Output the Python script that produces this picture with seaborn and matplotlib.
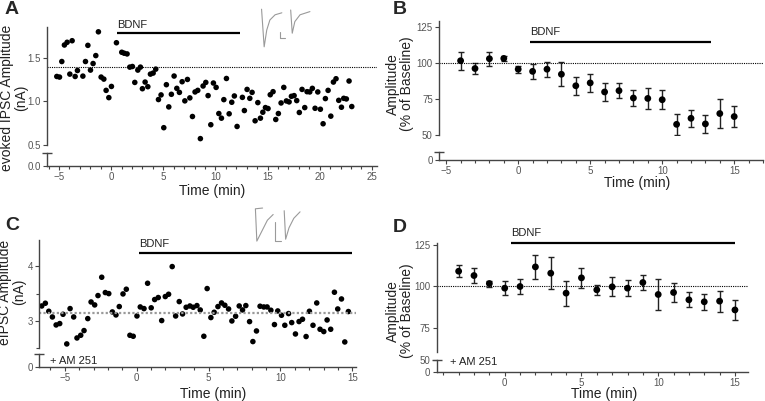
import numpy as np
import pandas as pd
import seaborn as sns
import matplotlib
matplotlib.use("Agg")
import matplotlib.pyplot as plt
from matplotlib.ticker import MultipleLocator, FormatStrFormatter

sns.set_style("ticks")
plt.rcParams['font.family'] = ['Liberation Sans', 'DejaVu Sans']

# ---- panel A: evoked IPSC amplitude (nA), single cell
a_time = [-5.21, -4.95, -4.73, -4.48, -4.22, -3.96, -3.74, -3.45, -3.23, -2.71,
          -2.46, -2.23, -1.98, -1.73, -1.47, -1.22, -0.96, -0.70, -0.48, -0.22,
          0.03, 0.51, 1.02, 1.25, 1.53, 1.79, 2.04, 2.27, 2.56, 2.81,
          3.00, 3.26, 3.52, 3.77, 4.03, 4.28, 4.54, 4.79, 5.05, 5.30,
          5.53, 5.78, 6.04, 6.30, 6.55, 6.81, 7.07, 7.32, 7.55, 7.80,
          8.05, 8.31, 8.56, 8.82, 9.08, 9.30, 9.56, 9.81, 10.07, 10.33,
          10.58, 10.81, 11.06, 11.32, 11.57, 11.82, 12.08, 12.59, 12.78, 13.04,
          13.30, 13.52, 13.81, 14.07, 14.32, 14.55, 14.80, 15.05, 15.26, 15.53,
          15.79, 16.04, 16.30, 16.56, 16.81, 17.07, 17.29, 17.55, 17.80, 18.05,
          18.31, 18.57, 18.79, 19.05, 19.30, 19.56, 19.82, 20.07, 20.33, 20.55,
          20.81, 21.07, 21.32, 21.57, 21.83, 22.09, 22.31, 22.56, 22.82, 23.08]
a_amp = [1.284, 1.277, 1.455, 1.644, 1.675, 1.311, 1.693, 1.284, 1.352, 1.288,
         1.455, 1.640, 1.357, 1.432, 1.523, 1.795, 1.277, 1.254, 1.125, 1.042,
         1.170, 1.670, 1.561, 1.550, 1.542, 1.391, 1.398, 1.216, 1.357, 1.391,
         1.144, 1.220, 1.167, 1.311, 1.323, 1.368, 1.020, 1.073, 0.698, 1.190,
         0.936, 1.080, 1.289, 1.148, 1.102, 1.224, 1.005, 1.250, 1.039, 0.826,
         1.107, 1.125, 0.573, 1.175, 1.216, 1.065, 0.732, 1.209, 1.159, 0.860,
         0.807, 1.019, 1.261, 0.857, 0.989, 1.061, 0.712, 1.045, 0.894, 1.136,
         1.034, 1.102, 0.777, 0.985, 0.807, 0.875, 0.928, 0.917, 1.075, 1.110,
         0.792, 0.860, 0.981, 1.159, 1.004, 0.993, 1.057, 1.065, 1.008, 0.872,
         1.136, 0.928, 1.110, 1.107, 1.148, 0.920, 1.107, 0.909, 0.743, 1.031,
         1.125, 0.830, 1.220, 1.258, 1.011, 0.932, 1.034, 1.027, 1.232, 0.940]
a_baseline = 1.39

# ---- panel B: mean amplitude (% of baseline) +- sem
b_time = [-4, -3, -2, -1, 0, 1, 2, 3, 4, 5, 6, 7, 8, 9, 10, 11, 12, 13, 14, 15]
b_mean = [101.4, 96.0, 102.8, 103.0, 95.5, 94.0, 95.5, 92.0, 84.0, 86.0,
          79.7, 80.6, 75.5, 75.2, 74.3, 57.2, 61.4, 57.5, 64.7, 62.6]
b_sem = [6.3, 4.0, 4.8, 1.5, 2.5, 5.1, 5.3, 8.2, 6.4, 6.2,
         6.3, 5.1, 5.6, 7.4, 6.5, 7.1, 6.1, 6.2, 10.0, 7.5]

# ---- panel C: eIPSC amplitude (nA) with AM 251
c_time = [-6.60, -6.35, -6.11, -5.86, -5.60, -5.35, -5.12, -4.86, -4.63, -4.38,
          -4.15, -3.89, -3.66, -3.40, -3.17, -2.92, -2.69, -2.43, -2.18, -1.94,
          -1.69, -1.44, -1.21, -0.95, -0.72, -0.47, -0.24, 0.02, 0.25, 0.51,
          0.76, 1.01, 1.25, 1.50, 1.74, 1.99, 2.22, 2.47, 2.71, 2.96,
          3.19, 3.44, 3.70, 3.93, 4.19, 4.42, 4.67, 4.90, 5.16, 5.39,
          5.65, 5.90, 6.13, 6.39, 6.62, 6.88, 7.13, 7.36, 7.59, 7.85,
          8.08, 8.33, 8.58, 8.84, 9.07, 9.33, 9.58, 9.81, 10.07, 10.30,
          10.56, 10.78, 11.04, 11.29, 11.53, 11.78, 12.01, 12.26, 12.52, 12.75,
          13.01, 13.24, 13.49, 13.75, 13.98, 14.24, 14.47, 14.72]
c_amp = [3.274, 3.324, 3.177, 3.073, 2.927, 2.952, 3.122, 2.580, 3.226, 3.073,
         2.689, 2.738, 2.824, 3.043, 3.347, 3.293, 3.464, 3.799, 3.519, 3.500,
         3.165, 3.110, 3.263, 3.494, 3.580, 2.738, 2.720, 3.091, 3.256, 3.226,
         3.689, 3.240, 3.391, 3.428, 3.007, 3.446, 3.488, 3.994, 3.091, 3.354,
         3.128, 3.250, 3.274, 3.250, 3.281, 3.201, 2.720, 3.592, 3.062, 3.159,
         3.263, 3.329, 3.287, 3.219, 3.000, 3.086, 3.274, 3.201, 3.281, 2.988,
         2.623, 2.817, 3.269, 3.256, 3.256, 3.196, 2.934, 3.183, 3.104, 2.921,
         3.135, 2.970, 2.762, 2.989, 3.031, 2.715, 3.177, 2.921, 3.329, 2.848,
         2.806, 3.018, 2.848, 3.525, 3.219, 3.402, 2.616, 3.172]
c_baseline = 3.15

# ---- panel D: mean amplitude (% of baseline) +- sem, AM 251
d_time = [-3, -2, -1, 0, 1, 2, 3, 4, 5, 6, 7, 8, 9, 10, 11, 12, 13, 14, 15]
d_mean = [109.0, 106.4, 101.6, 98.8, 99.8, 111.6, 107.8, 95.8, 105.0, 97.8,
          99.6, 98.8, 102.2, 95.0, 96.2, 91.8, 90.6, 91.0, 85.7]
d_sem = [3.6, 4.4, 1.8, 4.3, 4.5, 7.2, 9.5, 7.6, 6.2, 3.0,
         5.7, 4.7, 4.8, 9.2, 5.7, 4.4, 4.8, 6.3, 6.1]

# example traces (normalised units inside the inset box)
trace_a1 = ([0.03, 0.08, 0.13, 0.19, 0.29, 0.42], [0.97, 0.03, 0.45, 0.70, 0.83, 0.88])
trace_a2 = ([0.59, 0.62, 0.67, 0.77, 0.96], [0.95, 0.37, 0.66, 0.83, 0.91])
trace_c1 = ([0.20, 0.05, 0.08, 0.20, 0.30, 0.42], [0.92, 0.90, 0.05, 0.35, 0.60, 0.75])
trace_c2 = ([0.65, 0.68, 0.75, 0.85, 0.98], [0.85, 0.10, 0.40, 0.65, 0.82])

W, H = 765, 401
fig = plt.figure(figsize=(W / 100, H / 100), dpi=100)
AX_COL = '#444444'
TICK_COL = '#555555'


def box(x0, x1, ytop, ybot):
    return [x0 / W, 1 - ybot / H, (x1 - x0) / W, (ybot - ytop) / H]


def style(ax):
    for s in ['top', 'right']:
        ax.spines[s].set_visible(False)
    for s in ['left', 'bottom']:
        ax.spines[s].set_color(AX_COL)
        ax.spines[s].set_linewidth(1.0)
    ax.tick_params(which='both', direction='out', colors=AX_COL, labelcolor=TICK_COL,
                   labelsize=7, width=0.8, pad=1.5)
    ax.tick_params(which='major', length=3)
    ax.tick_params(which='minor', length=2)
    ax.set_xlabel('')
    ax.set_ylabel('')


def broken_axes(upper_pos, lower_pos, xlim, ylim_up, ylim_low):
    up = fig.add_axes(upper_pos)
    low = fig.add_axes(lower_pos)
    for ax in (up, low):
        style(ax)
        ax.set_xlim(*xlim)
        ax.patch.set_alpha(0)
    up.set_ylim(*ylim_up)
    low.set_ylim(*ylim_low)
    up.spines['bottom'].set_visible(False)
    up.tick_params(axis='x', which='both', bottom=False, labelbottom=False)
    low.xaxis.set_major_locator(MultipleLocator(5))
    low.xaxis.set_minor_locator(MultipleLocator(1))
    # cap on the short lower segment
    low.plot([0], [1], marker='_', ms=7, mew=1.0, color=AX_COL,
             transform=low.transAxes, clip_on=False)
    return up, low


def bdnf_bar(ax, x0, x1, y, dy):
    ax.plot([x0, x1], [y, y], color='black', lw=1.6, clip_on=False, solid_capstyle='butt')
    ax.text(x0, y + dy, 'BDNF', fontsize=8, ha='left', va='bottom', color='#222222')


def inset(pos, traces, scale):
    ins = fig.add_axes(pos)
    ins.set_xlim(0, 1)
    ins.set_ylim(0, 1)
    ins.axis('off')
    for tx, ty in traces:
        ins.plot(tx, ty, color='#9a9a9a', lw=0.8)
    ins.plot(scale[0], scale[1], color='#9a9a9a', lw=0.8)


# ================= A
axA, axA0 = broken_axes(box(47, 377, 27, 145), box(47, 377, 153, 166),
                        (-6.15, 25.5), (0.5, 1.85), (0, 1))
dfA = pd.DataFrame({'time': a_time, 'amp': a_amp})
sns.scatterplot(data=dfA, x='time', y='amp', ax=axA, color='black', s=16,
                edgecolor='none', legend=False, clip_on=False)
axA.axhline(a_baseline, ls=(0, (1, 1)), color='black', lw=0.8)
axA.set_yticks([0.5, 1.0, 1.5])
axA.yaxis.set_major_formatter(FormatStrFormatter('%.1f'))
axA0.set_yticks([0])
axA0.set_yticklabels(['0.0'])
bdnf_bar(axA, 0.6, 12.35, 1.78, 0.03)
style(axA)
inset(box(260, 312, 8, 48), [trace_a1, trace_a2],
      ([0.385, 0.385, 0.49], [0.41, 0.24, 0.24]))

# ================= B
axB, axB0 = broken_axes(box(439, 763, 21, 134.7), box(439, 763, 151.7, 160),
                        (-5.5, 17.0), (50, 129), (0, 1))
dfB = pd.DataFrame({'time': b_time, 'mean': b_mean, 'sem': b_sem})
axB.errorbar(dfB['time'], dfB['mean'], yerr=dfB['sem'], fmt='none', ecolor='#222222',
             elinewidth=1.0, capsize=2.5, capthick=1.0)
sns.scatterplot(data=dfB, x='time', y='mean', ax=axB, color='black', s=24,
                edgecolor='none', legend=False, zorder=3)
axB.axhline(100, ls=(0, (1, 1)), color='black', lw=0.8)
axB.set_yticks([50, 75, 100, 125])
axB0.set_yticks([0])
bdnf_bar(axB, 0.8, 13.4, 114.4, 3.5)
style(axB)

# ================= C
axC, axC0 = broken_axes(box(39.3, 356, 240, 348.3), box(39.3, 356, 354.3, 366.7),
                        (-6.77, 15.25), (2.5, 4.48), (0, 1))
dfC = pd.DataFrame({'time': c_time, 'amp': c_amp})
sns.scatterplot(data=dfC, x='time', y='amp', ax=axC, color='black', s=16,
                edgecolor='none', legend=False)
axC.axhline(c_baseline, ls=(0, (1, 1)), color='#9a9a9a', lw=1.6)
axC.set_yticks([3, 4])
axC.yaxis.set_minor_locator(MultipleLocator(0.5))
axC0.set_yticks([0])
bdnf_bar(axC, 0.18, 15.0, 4.24, 0.08)
style(axC)
inset(box(253, 301, 205, 243), [trace_c1, trace_c2],
      ([0.45, 0.45, 0.58], [0.55, 0.05, 0.05]))

# ================= D
axD, axD0 = broken_axes(box(436.7, 748, 243.3, 352.3), box(436.7, 748, 359.7, 372),
                        (-4.43, 15.85), (60.2, 125.8), (0, 50))
dfD = pd.DataFrame({'time': d_time, 'mean': d_mean, 'sem': d_sem})
axD.errorbar(dfD['time'], dfD['mean'], yerr=dfD['sem'], fmt='none', ecolor='#222222',
             elinewidth=1.0, capsize=2.5, capthick=1.0)
sns.scatterplot(data=dfD, x='time', y='mean', ax=axD, color='black', s=24,
                edgecolor='none', legend=False, zorder=3)
axD.axhline(100, ls=(0, (1, 1)), color='black', lw=0.8)
axD.set_yticks([75, 100, 125])
axD0.set_yticks([0, 50])
bdnf_bar(axD, 0.41, 15.0, 125.8, 3.0)
style(axD)

# ================= labels
lab = dict(fontsize=10, ha='center', va='center', color='#222222')
fig.text(14 / W, 1 - 98 / H, 'evoked IPSC Amplitude\n(nA)', rotation=90, linespacing=1.0, **lab)
fig.text(399.5 / W, 1 - 84 / H, 'Amplitude\n(% of Baseline)', rotation=90, linespacing=1.0, **lab)
fig.text(12.5 / W, 1 - 292 / H, 'eIPSC Amplitude\n(nA)', rotation=90, linespacing=1.0, **lab)
fig.text(399.5 / W, 1 - 311 / H, 'Amplitude\n(% of Baseline)', rotation=90, linespacing=1.0, **lab)
for xc, yc in [(212, 191.5), (637, 182.5), (213, 394), (604, 394)]:
    fig.text(xc / W, 1 - yc / H, 'Time (min)', **lab)

fig.text(50 / W, 1 - 361 / H, '+ AM 251', fontsize=8, ha='left', va='center', color='#222222')
fig.text(450 / W, 1 - 362 / H, '+ AM 251', fontsize=8, ha='left', va='center', color='#222222')

for txt, xc, yc in [('A', 12, 9), ('B', 400, 9), ('C', 12, 226), ('D', 400, 228)]:
    fig.text(xc / W, 1 - yc / H, txt, fontsize=14, fontweight='bold', ha='center', va='center')

fig.savefig('out.png', dpi=100)
